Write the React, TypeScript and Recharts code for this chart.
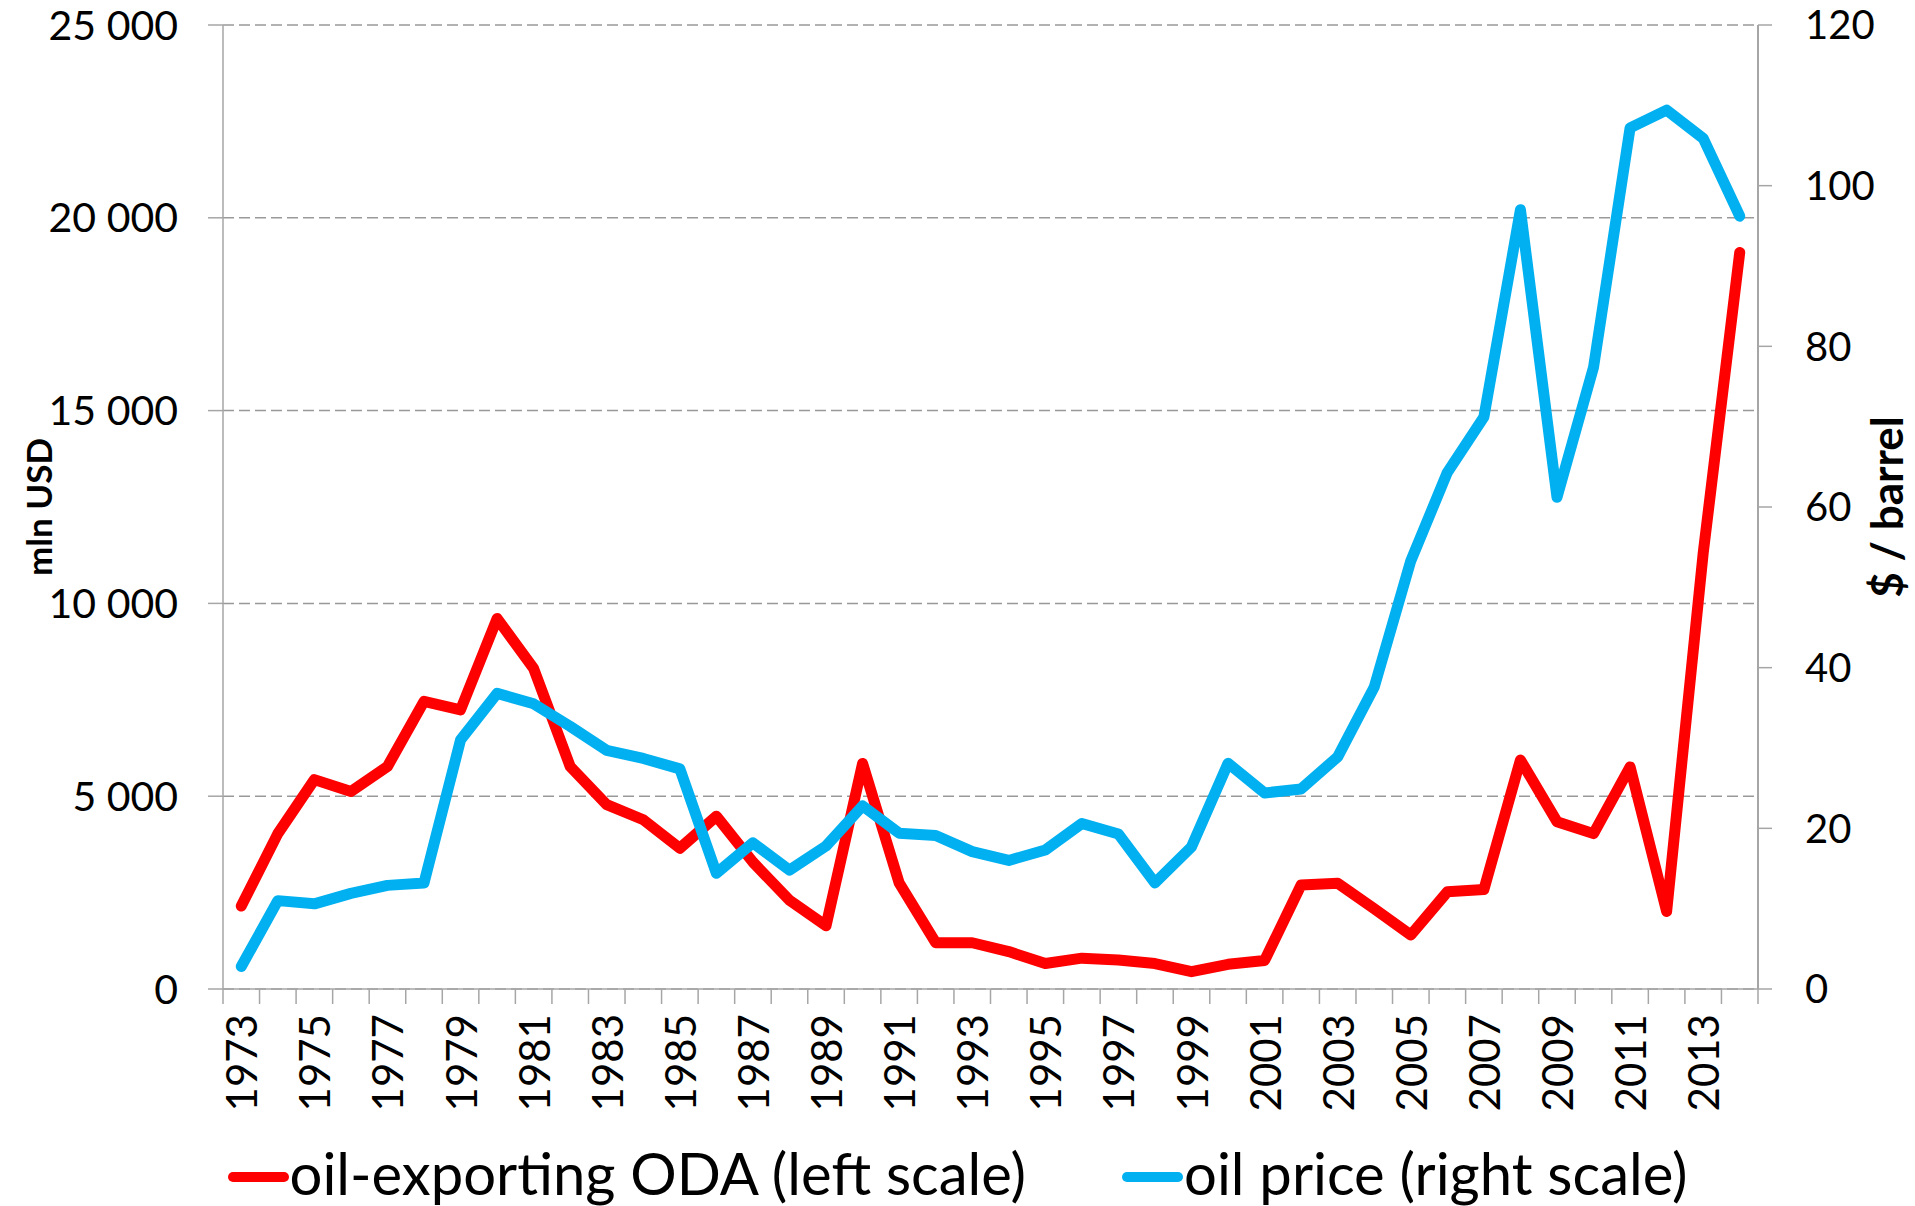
import React from 'react';
import { LineChart, Line, XAxis, YAxis, CartesianGrid, Legend } from 'recharts';

const years = [
  1973, 1974, 1975, 1976, 1977, 1978, 1979, 1980, 1981, 1982, 1983, 1984, 1985, 1986,
  1987, 1988, 1989, 1990, 1991, 1992, 1993, 1994, 1995, 1996, 1997, 1998, 1999, 2000,
  2001, 2002, 2003, 2004, 2005, 2006, 2007, 2008, 2009, 2010, 2011, 2012, 2013, 2014,
];

const odaValues = [
  2150, 4030, 5430, 5120, 5770, 7460, 7240, 9610, 8310, 5770, 4780, 4390, 3650, 4480,
  3290, 2300, 1640, 5850, 2750, 1200, 1200, 970, 660, 800, 750, 660, 450, 640,
  740, 2700, 2740, 2080, 1400, 2520, 2580, 5940, 4340, 4030, 5760, 2010, 11300, 19100,
];

const oilPrice = [
  2.8, 11.0, 10.6, 11.9, 12.9, 13.2, 31.0, 36.8, 35.5, 32.7, 29.7, 28.7, 27.4, 14.4,
  18.2, 14.8, 17.8, 22.8, 19.4, 19.1, 17.1, 16.0, 17.3, 20.6, 19.3, 13.2, 17.7, 28.1,
  24.4, 24.9, 28.9, 37.6, 53.3, 64.3, 71.2, 97.0, 61.2, 77.4, 107.2, 109.4, 105.9, 96.2,
];

const leftTicks = [0, 5000, 10000, 15000, 20000, 25000];
const rightTicks = [0, 20, 40, 60, 80, 100, 120];
const seriesNames = ['oil-exporting ODA (left scale)', 'oil price (right scale)'];
const leftTitle = 'mln USD';
const rightTitle = '$ / barrel';

const data = years.map((y, i) => ({ year: y, oda: odaValues[i], oil: oilPrice[i] }));

const FONT = 'Lato, "Open Sans", sans-serif';
const AXIS = '#a6a6a6';
const X_TICK_MARGIN = 25;
const X_TICK_LEN = 15;

const fmtThousands = (v: number) =>
  v === 0 ? '0' : `${Math.floor(v / 1000)} ${String(v % 1000).padStart(3, '0')}`;

// Category-boundary tick marks (Excel style) plus every other year label
const YearTick = (props: any) => {
  const { x, y, payload, index, width } = props;
  const axisY = y - X_TICK_MARGIN;
  const band = typeof width === 'number' && width > 0 ? width / years.length : 0;
  const isLast = index === years.length - 1;
  return (
    <g>
      {band > 0 && (
        <line x1={x - band / 2} x2={x - band / 2} y1={axisY} y2={axisY + X_TICK_LEN} stroke={AXIS} strokeWidth={1.5} />
      )}
      {band > 0 && isLast && (
        <line x1={x + band / 2} x2={x + band / 2} y1={axisY} y2={axisY + X_TICK_LEN} stroke={AXIS} strokeWidth={1.5} />
      )}
      {index % 2 === 0 && (
        <text
          x={x}
          y={y}
          transform={`rotate(-90, ${x}, ${y})`}
          textAnchor="end"
          dominantBaseline="central"
          fontFamily={FONT}
          fontSize={42}
          fill="#000"
        >
          {payload.value}
        </text>
      )}
    </g>
  );
};

const LeftTitle = (props: any) => {
  const vb = props.viewBox || {};
  const cx = vb.x + 38;
  const cy = vb.y + vb.height / 2;
  return (
    <text
      x={cx}
      y={cy}
      transform={`rotate(-90, ${cx}, ${cy})`}
      textAnchor="middle"
      dominantBaseline="central"
      fontFamily={FONT}
      fontWeight={700}
      fontSize={35}
      fill="#000"
    >
      {leftTitle}
    </text>
  );
};

const RightTitle = (props: any) => {
  const vb = props.viewBox || {};
  const cx = vb.x + 128;
  const cy = vb.y + vb.height / 2;
  return (
    <text
      x={cx}
      y={cy}
      transform={`rotate(-90, ${cx}, ${cy})`}
      textAnchor="middle"
      dominantBaseline="central"
      fontFamily={FONT}
      fontWeight={700}
      fontSize={44}
      fill="#000"
    >
      {rightTitle}
    </text>
  );
};

const LegendContent = (props: any) => {
  const payload = [...(props.payload || [])].sort(
    (a: any, b: any) => seriesNames.indexOf(a.value) - seriesNames.indexOf(b.value)
  );
  return (
    <div
      style={{
        height: 66,
        display: 'flex',
        justifyContent: 'center',
        alignItems: 'flex-start',
        gap: 96,
        fontFamily: FONT,
      }}
    >
      {payload.map((entry: any) => (
        <div key={entry.value} style={{ display: 'flex', alignItems: 'flex-start' }}>
          <svg width={61} height={66} style={{ display: 'block' }}>
            <line x1={5} x2={56} y1={37} y2={37} stroke={entry.color} strokeWidth={10} strokeLinecap="round" />
          </svg>
          <span style={{ fontSize: 58, lineHeight: '66px', color: '#000', marginLeft: 1, whiteSpace: 'nowrap' }}>
            {entry.value}
          </span>
        </div>
      ))}
    </div>
  );
};

export default function App() {
  return (
    <div style={{ position: 'absolute', left: 0, top: 0, background: '#fff' }}>
      <LineChart width={1915} height={1206} data={data} margin={{ top: 25, right: 0, bottom: 0, left: 0 }}>
        <XAxis
          xAxisId="yr"
          dataKey="year"
          type="category"
          scale="band"
          interval={0}
          tick={<YearTick />}
          tickLine={false}
          tickSize={0}
          tickMargin={X_TICK_MARGIN}
          axisLine={{ stroke: AXIS, strokeWidth: 1.5 }}
          height={151}
        />
        <YAxis
          yAxisId="left"
          orientation="left"
          width={223}
          domain={[0, 25000]}
          ticks={leftTicks}
          interval={0}
          tickFormatter={fmtThousands}
          tickSize={15}
          tickMargin={30}
          tickLine={{ stroke: AXIS, strokeWidth: 1.5 }}
          axisLine={{ stroke: AXIS, strokeWidth: 1.5 }}
          tick={{ fill: '#000', fontSize: 41, fontFamily: FONT }}
          label={<LeftTitle />}
        />
        <YAxis
          yAxisId="right"
          orientation="right"
          width={157}
          domain={[0, 120]}
          ticks={rightTicks}
          interval={0}
          tickSize={14}
          tickMargin={33}
          tickLine={{ stroke: AXIS, strokeWidth: 1.5 }}
          axisLine={{ stroke: AXIS, strokeWidth: 2 }}
          tick={{ fill: '#000', fontSize: 40, fontFamily: FONT }}
          label={<RightTitle />}
        />
        <CartesianGrid
          xAxisId="yr"
          yAxisId="left"
          vertical={false}
          stroke="#999"
          strokeWidth={1.5}
          strokeDasharray="11 5"
        />
        <Line
          xAxisId="yr"
          yAxisId="left"
          dataKey="oda"
          name={seriesNames[0]}
          stroke="#ff0000"
          strokeWidth={11}
          strokeLinecap="round"
          strokeLinejoin="round"
          dot={false}
          activeDot={false}
          isAnimationActive={false}
        />
        <Line
          xAxisId="yr"
          yAxisId="right"
          dataKey="oil"
          name={seriesNames[1]}
          stroke="#00b0f0"
          strokeWidth={11}
          strokeLinecap="round"
          strokeLinejoin="round"
          dot={false}
          activeDot={false}
          isAnimationActive={false}
        />
        <Legend verticalAlign="bottom" content={<LegendContent />} />
      </LineChart>
    </div>
  );
}
